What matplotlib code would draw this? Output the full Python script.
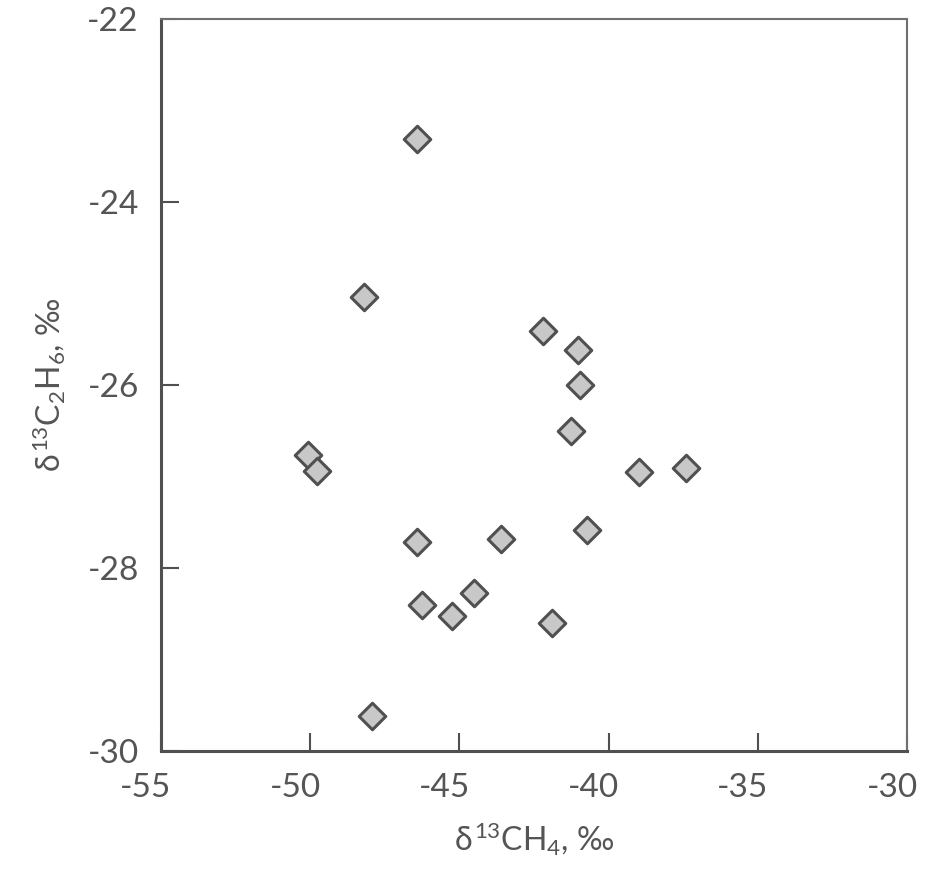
import matplotlib
matplotlib.use('Agg')
import matplotlib.pyplot as plt
import matplotlib.transforms as mtransforms

# delta13C values, permil
d13c_ch4 = [-46.42, -48.20, -42.20, -41.03, -40.96, -41.26, -50.08, -49.77, -38.99,
            -37.41, -40.73, -46.42, -43.61, -46.26, -44.51, -45.25, -41.90, -47.93]
d13c_c2h6 = [-23.31, -25.04, -25.41, -25.62, -26.00, -26.50, -26.77, -26.94, -26.95,
             -26.91, -27.58, -27.72, -27.68, -28.40, -28.27, -28.52, -28.60, -29.62]

x_ticks = [-55, -50, -45, -40, -35, -30]
y_ticks = [-30, -28, -26, -24, -22]

plt.rcParams['font.family'] = ['Lato', 'DejaVu Sans']
plt.rcParams['mathtext.fontset'] = 'custom'
plt.rcParams['mathtext.rm'] = 'Lato'
plt.rcParams['mathtext.it'] = 'Lato'

txt = '#555555'

fig = plt.figure(figsize=(9.47, 8.85), dpi=100)
ax1 = fig.add_axes([0.170, 0.1514, 0.788, 0.8271])

ax1.scatter(d13c_ch4, d13c_c2h6, marker='D', s=13.5**2, facecolor='#c8c8c8',
            edgecolor='#505050', linewidths=2.2, zorder=3)

ax1.set_xlim(-55, -30)
ax1.set_ylim(-30, -22)
ax1.set_xticks(x_ticks)
ax1.set_yticks(y_ticks)
ax1.set_xticklabels([str(v) for v in x_ticks])
ax1.set_yticklabels([str(v) for v in y_ticks])

ax1.tick_params(which='both', direction='in', length=13, width=1.5, color='#505050',
                labelsize=24, labelcolor=txt, pad=16)
ax1.tick_params(axis='x', top=False)
ax1.tick_params(axis='y', right=False)

for side in ['left', 'bottom']:
    ax1.spines[side].set_linewidth(2.2)
    ax1.spines[side].set_color('#505050')
for side in ['top', 'right']:
    ax1.spines[side].set_linewidth(1.5)
    ax1.spines[side].set_color('#707070')

# labels sit a little left of their ticks in the original
shift = mtransforms.ScaledTranslation(-15 / 100, 0, fig.dpi_scale_trans)
for lab in ax1.get_xticklabels():
    lab.set_transform(lab.get_transform() + shift)

ax1.set_xlabel(r'$\delta^{13}$CH$_4$, ‰', fontsize=23, color=txt, labelpad=12)
ax1.set_ylabel(r'$\delta^{13}$C$_2$H$_6$, ‰', fontsize=23, color=txt, labelpad=14)

fig.savefig('out.png', dpi=100)
